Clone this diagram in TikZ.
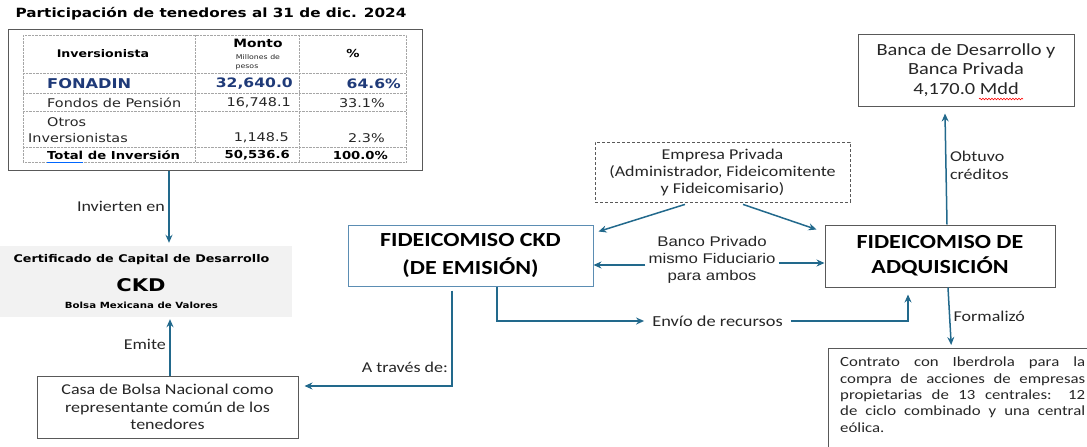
\documentclass[tikz,border=0pt]{standalone}
\usepackage{fontspec}
\setmainfont[FakeStretch=1.2]{Carlito}
\newfontfamily\verdana[FakeStretch=1.2]{DejaVu Sans}
\newfontfamily\arial[FakeStretch=1.2]{Liberation Sans}
\usetikzlibrary{arrows.meta}
\usetikzlibrary{decorations.pathmorphing}
\definecolor{azulflecha}{HTML}{22698C}
\definecolor{azulcaja}{HTML}{5B8DB3}
\definecolor{grisborde}{HTML}{595959}
\definecolor{grisfondo}{HTML}{F2F2F2}
\definecolor{azulfonadin}{HTML}{1F3A78}
\definecolor{texto}{HTML}{262626}

\begin{document}
\begin{tikzpicture}[x=1pt,y=-1pt,
  flecha/.style={azulflecha,line width=1.5pt,-{Stealth[length=8pt,width=7pt]}},
  caja/.style={draw=grisborde,line width=1pt,align=center,text=texto},
  etiqueta/.style={font=\fontsize{15}{18}\selectfont,text=texto},
  celda/.style={font=\verdana\fontsize{12}{14}\selectfont,text=texto,inner sep=0pt},
  negrita/.style={font=\verdana\bfseries\fontsize{11}{13}\selectfont,text=black,inner sep=0pt}]
\useasboundingbox (0,0) rectangle (1087,447);

% tabla de tenedores
\node[font=\verdana\bfseries\fontsize{12.7}{14}\selectfont] (titulo) at (211,14) {Participación de tenedores al 31 de dic. 2024};
\node[draw=grisborde,line width=1pt,minimum width=414,minimum height=141] (tabla) at (215,99.5) {};
\draw[gray!70,densely dotted] (23,35) rectangle (406,162);
\foreach \y in {73,93,111,147} \draw[gray!70,densely dotted] (23,\y) -- (406,\y);
\foreach \x in {195,299} \draw[gray!70,densely dotted] (\x,35) -- (\x,162);
\node[negrita,font=\verdana\bfseries\fontsize{10.5}{12}\selectfont] (hinv) at (103,54) {Inversionista};
\node[negrita,font=\verdana\bfseries\fontsize{11.5}{13}\selectfont] (hmonto) at (258,43) {Monto};
\node[celda,font=\verdana\fontsize{6.5}{8}\selectfont] (hmill) at (258,57) {Millones de};
\node[celda,font=\verdana\fontsize{6.5}{8}\selectfont] (hpesos) at (247,67) {pesos};
\node[negrita] (hpct) at (353,53) {\%};
\node[celda,anchor=west,text=azulfonadin,font=\verdana\bfseries\fontsize{13.5}{15}\selectfont] (fonadin) at (47,84) {FONADIN};
\node[celda,anchor=east,text=azulfonadin,font=\verdana\bfseries\fontsize{13}{15}\selectfont] (fonmonto) at (293,84) {32,640.0};
\node[celda,anchor=east,text=azulfonadin,font=\verdana\bfseries\fontsize{13}{15}\selectfont] (fonpct) at (401,84) {64.6\%};
\node[celda,anchor=west] (fondos) at (47,103) {Fondos de Pensión};
\node[celda,anchor=east] (fonmonto2) at (291,103) {16,748.1};
\node[celda,anchor=east] (fonpct2) at (385,103) {33.1\%};
\node[celda,anchor=west] (otros) at (47,122) {Otros};
\node[celda,anchor=west] (otros2) at (28,138) {Inversionistas};
\node[celda,anchor=east] (otrmonto) at (289,138) {1,148.5};
\node[celda,anchor=east] (otrpct) at (385,138) {2.3\%};
\node[negrita,anchor=west] (total) at (47,155) {Total de Inversión};
\node[negrita,anchor=east] (totmonto) at (290,155) {50,536.6};
\node[negrita,anchor=east] (totpct) at (388,155) {100.0\%};
\draw[blue!60!cyan,line width=0.8pt] (47,162) -- (83,162);

% certificado
\node[fill=grisfondo,minimum width=292,minimum height=71,inner sep=0pt] (ckd) at (146,281.5) {};
\node[font=\verdana\bfseries\fontsize{10.6}{12}\selectfont] (certif) at (141.5,260) {Certificado de Capital de Desarrollo};
\node[font=\verdana\bfseries\fontsize{17.5}{20}\selectfont] (ckdtxt) at (141,285) {CKD};
\node[font=\verdana\bfseries\fontsize{8.5}{10}\selectfont] (bmv) at (141.5,305) {Bolsa Mexicana de Valores};

% cajas
\node[caja,font=\fontsize{15}{17.5}\selectfont,minimum width=261,minimum height=62] (casa) at (167.5,407) {Casa de Bolsa Nacional como\\representante común de los\\tenedores};
\node[caja,draw=azulcaja,text=black,font=\bfseries\fontsize{20}{28}\selectfont,minimum width=245,minimum height=61] (fidckd) at (470.5,255.5) {FIDEICOMISO CKD\\(DE EMISIÓN)};
\node[caja,line width=0.8pt,dash pattern=on 3pt off 2pt,font=\fontsize{15}{17}\selectfont,minimum width=255,minimum height=60] (empresa) at (722.5,172) {Empresa Privada\\(Administrador, Fideicomitente\\y Fideicomisario)};
\node[font=\arial\fontsize{14}{17}\selectfont,text=texto,align=center,inner sep=3pt] (banco) at (712,260) {Banco Privado\\mismo Fiduciario\\para ambos};
\node[caja,text=black,font=\bfseries\fontsize{20}{25}\selectfont,minimum width=230,minimum height=62] (adq) at (940,256) {FIDEICOMISO DE\\ADQUISICIÓN};
\node[caja,font=\fontsize{17}{19.5}\selectfont,minimum width=216,minimum height=72] (banca) at (966,70) {Banca de Desarrollo y\\Banca Privada\\4,170.0 Mdd};
\draw[red,line width=0.6pt,decorate,decoration={snake,amplitude=0.8pt,segment length=3pt}] (979,99) -- (1023,99);
\node[anchor=north west,text width=245,align=justify,inner xsep=12pt,inner ysep=9pt,font=\fontsize{14}{16.3}\selectfont,text=texto] (contrato) at (828,348) {Contrato con Iberdrola para la\linebreak compra de acciones de empresas\linebreak propietarias de 13 centrales: 12\linebreak de ciclo combinado y una central\linebreak eólica.};
\draw[grisborde,line width=1pt] (contrato.north west) ++(0,99) -- (contrato.north west) -- ++(259,0);
\node[etiqueta,font=\fontsize{15.3}{17}\selectfont,inner xsep=8pt] (envio) at (717.5,321) {Envío de recursos};

% flechas
\draw[flecha] ([xshift=-46pt]tabla.south) -- node[etiqueta,left,pos=0.49] (lblinv) {Invierten en} ([xshift=23pt,yshift=3pt]ckd.north);
\draw[flecha] ([xshift=2.5pt]casa.north) -- node[etiqueta,left,pos=0.55] (lblemite) {Emite} ([xshift=24pt,yshift=-2pt]ckd.south);
\draw[flecha] ([xshift=-18.5pt,yshift=-4pt]fidckd.south) |- node[etiqueta,left,pos=0.4] (lbltraves) {A través de:} ([xshift=6pt,yshift=21pt]casa.east);
\draw[flecha] ([xshift=26.5pt]fidckd.south) |- (envio.west);
\draw[flecha] (envio.east) -| ([xshift=-32pt,yshift=-7pt]adq.south);
\draw[flecha] ([xshift=-37.5pt,yshift=-2pt]empresa.south) -- ([xshift=5pt,yshift=-7pt]fidckd.north east);
\draw[flecha] ([xshift=20.5pt,yshift=-2pt]empresa.south) -- ([xshift=-8pt,yshift=-5pt]adq.north west);
\draw[flecha] ([yshift=-5pt]banco.west) -- ([yshift=-5pt]banco.west -| fidckd.east);
\draw[flecha] ([yshift=-3pt]banco.east) -- ([yshift=-3pt]banco.east -| adq.west);
\draw[flecha] ([xshift=7pt]adq.north) -- node[etiqueta,right,align=left,pos=0.53] (lblcred) {Obtuvo\\créditos} ([xshift=-21pt,yshift=-7pt]banca.south);
\draw[flecha] ([xshift=8pt]adq.south) -- node[etiqueta,right,pos=0.5] (lblform) {Formalizó} ([xshift=-11.5pt,yshift=3pt]contrato.north);
\end{tikzpicture}
\end{document}
